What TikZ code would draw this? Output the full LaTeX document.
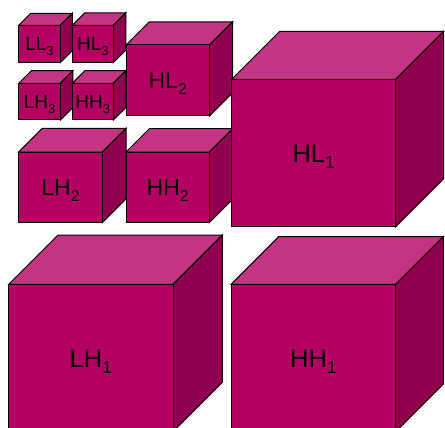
\documentclass[tikz,border=0pt]{standalone}
\usepackage{fontspec}
\setmainfont{Liberation Sans}
\definecolor{cfront}{RGB}{181,0,99}
\definecolor{ctop}{RGB}{196,52,130}
\definecolor{cside}{RGB}{145,0,78}
\tikzset{
  face/.style={draw=black,line width=1pt,line join=miter},
  lbl/.style={inner sep=0pt,outer sep=0pt,text=black,anchor=base}
}
\newcommand\sbx[1]{\raisebox{-0.26em}{\scalebox{0.68}{#1}}}
% #1 name, #2 x1, #3 y1, #4 x2, #5 y2, #6 depth, #7 label, #8 font size
\newcommand\cubeit[8]{%
  \filldraw[face,fill=ctop] (#2,#3) -- ({#2+#6},{#3-#6}) -- ({#4+#6},{#3-#6}) -- (#4,#3) -- cycle;
  \filldraw[face,fill=cside] (#4,#3) -- ({#4+#6},{#3-#6}) -- ({#4+#6},{#5-#6}) -- (#4,#5) -- cycle;
  \filldraw[face,fill=cfront] (#2,#3) rectangle (#4,#5);
  \node[lbl,font=\fontsize{#8}{#8}\selectfont] (#1) at ({(#2+#4)/2},{(#3+#5)/2+0.36*#8}) {#7};
}
\begin{document}
\begin{tikzpicture}[x=1pt,y=-1pt]
\useasboundingbox (0,0) rectangle (445,428);
\clip (0,0) rectangle (445,428);
\cubeit{ll3}{18.7}{25.3}{60.3}{62.7}{12}{LL\sbx{3}}{19}
\cubeit{hl3}{72.3}{25.3}{113.3}{62.7}{12.5}{HL\sbx{3}}{19}
\cubeit{lh3}{18.7}{83.3}{60.3}{120}{12.6}{LH\sbx{3}}{19}
\cubeit{hh3}{72.3}{83.3}{113.3}{120}{12.6}{HH\sbx{3}}{19}
\cubeit{hl2}{126}{45}{209.3}{116}{23.2}{HL\sbx{2}}{23}
\cubeit{lh2}{18.7}{152}{102.3}{222.7}{23.7}{LH\sbx{2}}{23}
\cubeit{hh2}{126}{152}{209.3}{222.7}{23.3}{HH\sbx{2}}{23}
\cubeit{hl1}{231.7}{79.3}{395.7}{226.7}{48}{HL\sbx{1}}{25.5}
\cubeit{lh1}{8.7}{284.3}{173}{431.7}{49.3}{LH\sbx{1}}{25.5}
\cubeit{hh1}{231}{284.3}{395.7}{431.7}{47.7}{HH\sbx{1}}{25.5}
\end{tikzpicture}
\end{document}
